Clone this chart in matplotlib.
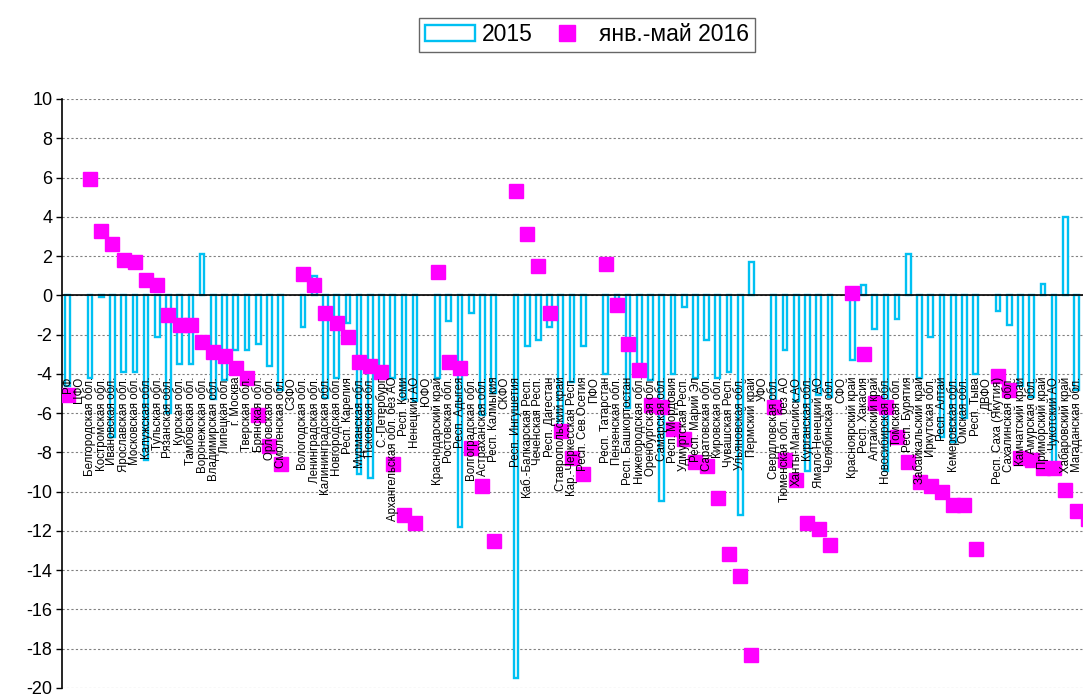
import numpy as np
import matplotlib
matplotlib.use("Agg")
import matplotlib.pyplot as plt
from matplotlib.patches import Patch
from matplotlib.lines import Line2D

# -----------------------------------------------------------------------------
#                                 Data
# -----------------------------------------------------------------------------
regions = [
    "РФ", "ЦФО", "Белгородская обл.", "Костромская обл.", "Ивановская обл.",
    "Ярославская обл.", "Московская обл.", "Калужская обл.", "Тульская обл.",
    "Рязанская обл.", "Курская обл.", "Тамбовская обл.", "Воронежская обл.",
    "Владимирская обл.", "Липецкая обл.", "г. Москва", "Тверская обл.",
    "Брянская обл.", "Орловская обл.", "Смоленская обл.",
    "СЗФО", "Вологодская обл.", "Ленинградская обл.", "Калининградская обл.",
    "Новгородская обл.", "Респ. Карелия", "Мурманская обл.", "Псковская обл.",
    "С.-Петербург", "Архангельская обл. без АО", "Респ. Коми", "Ненецкий АО",
    "ЮФО", "Краснодарский край", "Ростовская обл.", "Респ. Адыгея",
    "Волгоградская обл.", "Астраханская обл.", "Респ. Калмыкия",
    "СКФО", "Респ. Ингушетия", "Каб.-Балкарская Респ.", "Чеченская Респ.",
    "Респ. Дагестан", "Ставропольский край", "Кар.-Черкесская Респ.",
    "Респ. Сев.Осетия",
    "ПФО", "Респ. Татарстан", "Пензенская обл.", "Респ. Башкортостан",
    "Нижегородская обл.", "Оренбургская обл.", "Самарская обл.",
    "Респ. Мордовия", "Удмуртская Респ.", "Респ. Марий Эл", "Саратовская обл.",
    "Кировская обл.", "Чувашская Респ.", "Ульяновская обл.", "Пермский край",
    "УФО", "Свердловская обл.", "Тюменская обл. без АО", "Ханты-Мансийск.АО",
    "Курганская обл.", "Ямало-Ненецкий АО", "Челябинская обл.",
    "СФО", "Красноярский край", "Респ. Хакасия", "Алтайский край",
    "Новосибирская обл.", "Томская обл.", "Респ. Бурятия", "Забайкальский край",
    "Иркутская обл.", "Респ. Алтай", "Кемеровская обл.", "Омская обл.",
    "Респ. Тыва",
    "ДВФО", "Респ. Саха (Якутия)", "Сахалинская обл.", "Камчатский край",
    "Амурская обл.", "Приморский край", "Чукотский АО", "Хабаровский край",
    "Магаданская обл.", "Еврейская АО",
]

nan = np.nan
# 2015 (bars)
val_2015 = [
    -4.6, nan, -4.2, -0.1, -7.2, -3.9, -3.9, -8.4, -2.1, -6.0, -3.5, -3.5, 2.1,
    -5.3, -4.3, -2.8, -2.8, -2.5, -3.6, -4.8,
    nan, -1.6, 1.0, -5.25, -4.2, -1.4, -9.1, -9.3, -4.2, -4.2, -5.3, -5.4,
    nan, -4.2, -1.3, -11.8, -0.9, -6.1, -5.0,
    nan, -19.5, -2.6, -2.3, -1.6, -7.0, -4.4, -2.6,
    nan, -4.0, -0.2, -5.75, -4.0, -4.3, -10.5, -4.0, -0.6, -4.2, -2.3, -4.2,
    -3.9, -11.2, 1.7,
    nan, -6.0, -2.8, -5.4, -8.95, -5.1, -5.2,
    nan, -3.3, 0.5, -1.7, -8.95, -1.2, 2.1, -4.2, -2.1, -7.2, -7.45, -6.25,
    -4.0,
    nan, -0.8, -1.5, -4.6, -5.2, 0.6, -8.6, 4.0, -4.8, -5.0,
]
# январь-май 2016 (squares)
val_2016 = [
    -5.1, nan, 5.9, 3.3, 2.6, 1.8, 1.7, 0.8, 0.5, -1.0, -1.5, -1.5, -2.4,
    -2.9, -3.1, -3.7, -4.2, -6.1, -7.7, -8.6,
    nan, 1.1, 0.5, -0.9, -1.4, -2.1, -3.4, -3.6, -3.9, -8.6, -11.2, -11.6,
    nan, 1.2, -3.4, -3.7, -7.8, -9.7, -12.5,
    nan, 5.3, 3.1, 1.5, -0.9, -6.9, -8.3, -9.1,
    nan, 1.6, -0.5, -2.5, -3.8, -5.6, -5.7, -6.8, -7.3, -8.5, -8.7, -10.3,
    -13.2, -14.3, -18.3,
    nan, -5.7, -8.4, -9.4, -11.6, -11.9, -12.7,
    nan, 0.1, -3.0, -5.5, -5.7, -7.2, -8.5, -9.5, -9.7, -10.0, -10.7, -10.7,
    -12.9,
    nan, -4.1, -4.8, -8.3, -8.4, -8.8, -8.8, -9.9, -11.0, -11.4,
]

yticks = np.arange(-20, 11, 2)

# -----------------------------------------------------------------------------
#                                 Plot
# -----------------------------------------------------------------------------
plt.rcParams['font.family'] = ['Liberation Sans', 'DejaVu Sans']

cyan = '#00C0F2'
magenta = '#FF00FF'

W, H = 1083, 695
fig = plt.figure(figsize=(W / 100, H / 100), dpi=100)
n = len(regions)
x = np.arange(n)
step = 11.21                 # pixels per category
left_px = 62
# the plot runs off the right edge of the picture, like the original
ax = fig.add_axes([left_px / W, 0.0101, (W - left_px) / W, 0.8475])
x_right = -0.5 + (W - left_px) / step

ax.bar(x, val_2015, width=0.42, facecolor='white', edgecolor=cyan,
       linewidth=1.7, zorder=2)
ax.plot(x, val_2016, linestyle='none', marker='s', markersize=10.5,
        color=magenta, zorder=3)

# category names, rotated, hanging under the zero line
for xi, name in zip(x, regions):
    if xi + 0.45 > x_right:
        continue    # off the picture
    ax.text(xi, -4.15, name, rotation=90, ha='center', va='top',
            fontsize=8.3, color='black', zorder=4)

ax.set_xlim(-0.5, x_right)
ax.set_ylim(-20, 10)
ax.set_yticks(yticks)
ax.set_yticklabels([str(t) for t in yticks], fontsize=13)
ax.set_xticks([])
ax.grid(axis='y', color='#808080', linestyle=(0, (2, 2)), linewidth=0.8,
        zorder=0)
ax.axhline(0, color='black', linewidth=1.2, zorder=2.5)

for side in ['top', 'right', 'bottom']:
    ax.spines[side].set_visible(False)
ax.spines['left'].set_color('black')
ax.spines['left'].set_linewidth(1.2)
ax.tick_params(axis='y', length=4, width=1, pad=3)

handles = [Patch(facecolor='white', edgecolor=cyan, linewidth=1.7),
           Line2D([], [], linestyle='none', marker='s', markersize=11,
                  color=magenta)]
leg = fig.legend(handles, ['2015', 'янв.-май 2016'], ncol=2,
                 loc='center', bbox_to_anchor=(0.542, 0.95), fontsize=16.5,
                 frameon=True, fancybox=False, handlelength=2.2,
                 handletextpad=0.3, columnspacing=0.4, borderpad=0.25)
leg.get_frame().set_edgecolor('#404040')
leg.get_frame().set_linewidth(1.0)

fig.savefig('out.png', dpi=100)
